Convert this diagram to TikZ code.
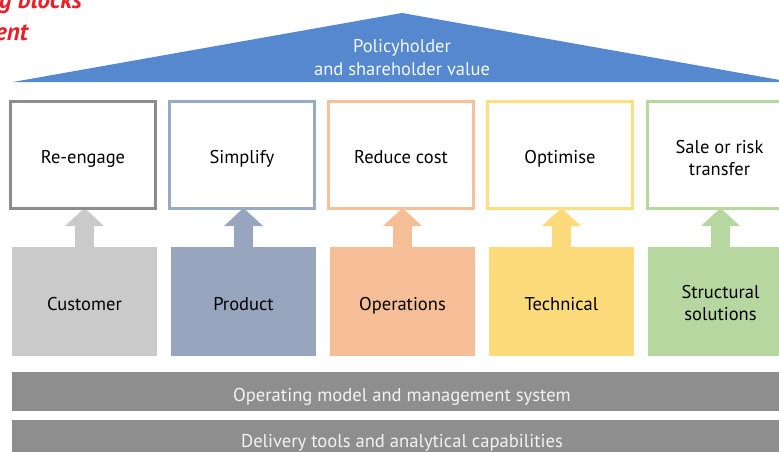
\documentclass[tikz,border=0pt]{standalone}
\usepackage{fontspec}
\setmainfont{PT Sans}
\usetikzlibrary{arrows.meta}
\definecolor{roofblue}{RGB}{85,136,207}
\definecolor{grayA}{RGB}{140,140,140}
\definecolor{grayF}{RGB}{202,202,202}
\definecolor{blueA}{RGB}{152,170,196}
\definecolor{blueF}{RGB}{151,166,190}
\definecolor{orA}{RGB}{248,192,154}
\definecolor{orF}{RGB}{246,190,151}
\definecolor{yeA}{RGB}{253,223,130}
\definecolor{yeF}{RGB}{253,219,123}
\definecolor{grA}{RGB}{181,215,160}
\definecolor{grF}{RGB}{182,215,160}
\definecolor{barg}{RGB}{142,142,142}
\definecolor{titlered}{RGB}{232,32,42}
\tikzset{
  goalbox/.style={draw=#1, line width=3pt, fill=white, minimum width=145pt, minimum height=107pt, inner sep=0pt},
  leverbox/.style={fill=#1, minimum width=145pt, minimum height=109pt, inner sep=0pt},
  lbl/.style={anchor=base, inner sep=0pt, text=black, font=\fontsize{18.5}{22}\selectfont},
  barlbl/.style={anchor=base, inner sep=0pt, text=white!95!black, font=\fontsize{18.6}{22}\selectfont},
  rooflbl/.style={anchor=base, inner sep=0pt, text=white!94!roofblue, font=\fontsize{18.5}{22}\selectfont},
  uparrow/.style={draw=#1, line width=19pt, -{Triangle[width=38pt,length=18pt,fill=#1]}, shorten >=-1pt},
  titletext/.style={text=titlered, font=\fontsize{25}{30}\bfseries\itshape\selectfont, inner sep=0pt, anchor=base east}
}
\begin{document}
\begin{tikzpicture}[x=1pt,y=-1pt]
\useasboundingbox (0,0) rectangle (779,452);
\clip (0,0) rectangle (779,452);
% title fragments
\node[titletext] (t1) at (82,9) {g blocks};
\node[titletext] (t2) at (28,41) {ent};
% roof
\coordinate (rl) at (13,82);
\coordinate (rt) at (402,13);
\coordinate (rr) at (791,82);
\fill[roofblue] (rl) -- (rt) -- (rr) -- cycle;
\node[rooflbl] (roof1) at (402,53) {Policyholder};
\node[rooflbl] (roof2) at (402,76) {and shareholder value};
% lever boxes
\node[leverbox=grayF] (l1) at (84.5,301.5) {};
\node[leverbox=blueF] (l2) at (243.5,301.5) {};
\node[leverbox=orF] (l3) at (402.5,301.5) {};
\node[leverbox=yeF] (l4) at (561.5,301.5) {};
\node[leverbox=grF] (l5) at (720.5,301.5) {};
\node[lbl] (l1t) at (84.5,310) {Customer};
\node[lbl] (l2t) at (243.5,310) {Product};
\node[lbl] (l3t) at (402.5,310) {Operations};
\node[lbl] (l4t) at (561.5,310) {Technical};
\node[lbl] (l5t) at (720.5,298) {Structural};
\node[lbl] (l5u) at (720.5,320) {solutions};
% arrows
\draw[uparrow=grayF] (l1.north) -- (l1.north |- 0,209);
\draw[uparrow=blueF] (l2.north) -- (l2.north |- 0,209);
\draw[uparrow=orF] (l3.north) -- (l3.north |- 0,209);
\draw[uparrow=yeF] (l4.north) -- (l4.north |- 0,209);
\draw[uparrow=grF] (l5.north) -- (l5.north |- 0,209);
% goal boxes
\node[goalbox=grayA] (g1) at (83,155) {};
\node[goalbox=blueA] (g2) at (242,155) {};
\node[goalbox=orA] (g3) at (401,155) {};
\node[goalbox=yeA] (g4) at (560,155) {};
\node[goalbox=grA] (g5) at (719.5,155) {};
\node[lbl] (g1t) at (83,163) {Re-engage};
\node[lbl] (g2t) at (242,163) {Simplify};
\node[lbl] (g3t) at (401,163) {Reduce cost};
\node[lbl] (g4t) at (560,163) {Optimise};
\node[lbl] (g5t) at (719.5,153) {Sale or risk};
\node[lbl] (g5u) at (719.5,175) {transfer};
% base bars
\fill[barg] (12,372) rectangle (800,411);
\node[barlbl] (b1) at (402,401) {Operating model and management system};
\fill[barg] (12,420) rectangle (800,460);
\node[barlbl] (b2) at (402,447) {Delivery tools and analytical capabilities};
\end{tikzpicture}
\end{document}
